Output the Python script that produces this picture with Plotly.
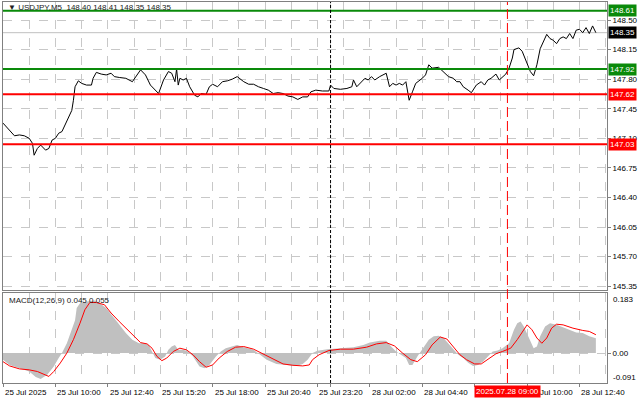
import plotly.graph_objects as go

# ---------------- price data (M5 close, key points) ----------------
fri_times = ["07:20","07:30","07:45","07:55","08:10","08:25","08:40","08:50","08:55","09:05",
             "09:15","09:30","09:40","09:50","10:00","10:10","10:20","10:30","10:40","10:50",
             "10:55","11:00","11:10","11:20","11:35","11:50","11:55","12:05","12:20","12:35",
             "12:50","13:00","13:15","13:35","13:55","14:05","14:20","14:35","14:50","15:15",
             "15:30","15:45","15:55","16:05","16:10","16:15","16:20","16:30","16:40","16:50",
             "17:05","17:15","17:25","17:40","17:50","18:00","18:15","18:30","18:45","19:00",
             "19:15","19:35","19:50","20:05","20:20","20:35","20:50","21:05","21:20","21:35",
             "21:50","22:05","22:20","22:35","22:50","23:00","23:15","23:35","23:55"]
fri_close = [147.28,147.24,147.18,147.13,147.14,147.13,147.10,147.04,146.90,146.98,
             147.02,146.96,146.98,147.08,147.10,147.16,147.18,147.26,147.34,147.43,
             147.55,147.71,147.78,147.75,147.73,147.73,147.81,147.88,147.86,147.85,
             147.87,147.83,147.82,147.81,147.77,147.83,147.91,147.85,147.73,147.63,
             147.79,147.89,147.87,147.77,147.92,147.73,147.81,147.79,147.81,147.71,
             147.61,147.59,147.63,147.62,147.71,147.74,147.71,147.77,147.78,147.80,
             147.83,147.77,147.74,147.74,147.71,147.69,147.67,147.63,147.64,147.63,
             147.60,147.59,147.56,147.59,147.59,147.65,147.67,147.66,147.66]
mon_times = ["00:00","00:10","00:30","00:50","01:05","01:10","01:20","01:35","01:45","01:55",
             "02:05","02:15","02:30","02:50","03:00","03:10","03:20","03:30","03:40","03:50",
             "04:00","04:10","04:20","04:40","04:50","05:00","05:10","05:30","05:45","06:00",
             "06:15","06:25","06:35","06:45","07:00","07:10","07:25","07:40","07:50","08:00",
             "08:10","08:25","08:35","08:45","08:55","09:05","09:15","09:20","09:35","09:45",
             "10:00","10:10","10:20","10:30","10:40","10:50","11:00","11:10","11:20","11:30",
             "11:40","11:50","12:00","12:10","12:20","12:30","12:40","12:50","13:00","13:10",
             "13:20","13:30"]
mon_close = [147.73,147.69,147.68,147.69,147.71,147.79,147.71,147.77,147.81,147.79,
             147.83,147.79,147.83,147.87,147.71,147.75,147.73,147.75,147.73,147.77,
             147.55,147.65,147.75,147.81,147.85,147.97,147.93,147.94,147.89,147.83,
             147.81,147.77,147.77,147.71,147.67,147.64,147.73,147.77,147.73,147.79,
             147.81,147.86,147.79,147.83,147.86,147.93,148.05,148.15,148.17,148.13,
             147.99,147.89,147.84,147.97,148.16,148.24,148.33,148.28,148.26,148.22,
             148.28,148.30,148.28,148.34,148.28,148.38,148.39,148.35,148.41,148.34,
             148.43,148.35]

# ---------------- MACD(12,26,9) ----------------
hist_fri_times = ["07:20","07:40","08:10","08:40","09:00","09:15","09:35","09:55","10:10","10:20",
                  "10:35","10:50","11:00","11:05","11:15","11:35","12:00","12:15","12:35","12:55",
                  "13:15","13:35","13:55","14:15","14:30","14:45","14:55","15:05","15:20","15:35",
                  "15:45","15:55","16:05","16:15","16:30","16:45","17:00","17:20","17:35","17:50",
                  "18:10","18:25","18:40","19:00","19:15","19:35","20:05","20:25","20:45","21:15",
                  "21:45","22:15","22:35","22:50","23:05","23:20","23:50"]
hist_fri = [-0.020,-0.036,-0.046,-0.056,-0.073,-0.079,-0.066,-0.041,-0.015,0.000,
            0.030,0.071,0.100,0.137,0.152,0.157,0.160,0.152,0.137,0.112,
            0.086,0.061,0.041,0.030,0.030,0.025,0.005,-0.015,-0.020,-0.010,
            0.010,0.020,0.025,0.010,0.010,0.005,-0.010,-0.041,-0.046,-0.036,
            -0.010,0.005,0.015,0.022,0.025,0.018,0.010,-0.005,-0.020,-0.033,
            -0.036,-0.039,-0.033,-0.020,0.000,0.007,0.012]
hist_mon_times = ["00:10","00:40","01:10","01:40","02:00","02:30","02:50","03:05","03:20","03:35",
                  "03:50","04:00","04:10","04:25","04:45","05:00","05:15","05:30","05:45","06:00",
                  "06:15","06:30","06:45","07:00","07:15","07:30","07:45","08:00","08:15","08:30",
                  "08:45","09:05","09:20","09:30","09:40","09:50","10:05","10:20","10:30","10:40",
                  "10:55","11:10","11:30","11:50","12:10","12:30","12:50","13:10","13:30"]
hist_mon = [0.014,0.015,0.018,0.025,0.032,0.038,0.038,0.020,0.005,-0.005,
            -0.015,-0.036,-0.036,-0.010,0.020,0.041,0.051,0.053,0.046,0.030,
            0.012,-0.005,-0.015,-0.029,-0.039,-0.036,-0.026,-0.010,0.005,0.008,
            0.015,0.030,0.071,0.091,0.096,0.081,0.046,0.015,0.020,0.051,
            0.081,0.091,0.086,0.079,0.071,0.063,0.061,0.051,0.045]
sig_fri_times = ["07:20","07:40","08:10","08:40","09:05","09:40","09:55","10:15","10:35","10:55",
                 "11:15","11:30","11:45","12:05","12:30","12:50","13:15","13:40","14:05","14:20",
                 "14:40","14:55","15:10","15:25","15:40","16:00","16:20","16:40","17:00","17:20",
                 "17:40","18:00","18:20","18:45","19:10","19:35","20:05","20:35","21:05","21:35",
                 "22:05","22:35","22:55","23:05","23:25","23:55"]
sig_fri = [-0.026,-0.039,-0.048,-0.051,-0.056,-0.071,-0.056,-0.030,0.000,0.041,
           0.091,0.132,0.154,0.154,0.147,0.122,0.096,0.071,0.046,0.032,
           0.028,0.015,-0.010,-0.023,-0.015,0.005,0.015,0.010,-0.005,-0.026,
           -0.043,-0.036,-0.015,0.005,0.018,0.020,0.012,-0.003,-0.020,-0.033,
           -0.037,-0.039,-0.036,-0.020,-0.005,0.008]
sig_mon_times = ["00:30","01:10","01:50","02:20","02:50","03:15","03:40","04:05","04:25","04:50",
                 "05:10","05:35","05:55","06:15","06:35","06:55","07:20","07:40","08:00","08:25",
                 "08:45","09:10","09:30","09:50","10:00","10:15","10:30","10:45","11:00","11:15",
                 "11:30","11:50","12:20","12:50","13:10","13:30"]
sig_mon = [0.012,0.012,0.018,0.028,0.032,0.022,0.000,-0.020,-0.026,-0.005,
           0.025,0.049,0.043,0.020,-0.005,-0.020,-0.033,-0.033,-0.018,-0.002,
           0.005,0.015,0.041,0.071,0.086,0.071,0.046,0.030,0.046,0.076,
           0.088,0.086,0.076,0.069,0.066,0.056]

# ---------------- levels / ticks / labels ----------------
price_ticks = [148.50, 148.15, 147.80, 147.45, 147.10, 146.75, 146.40, 146.05, 145.70, 145.35]
level_values = [148.61, 147.92, 147.62, 147.03]
level_colors = ["#0a8a0a", "#0a8a0a", "#ff0000", "#ff0000"]
bid_price = 148.35
time_tick_x = ["2025-07-25 07:20", "2025-07-25 10:00", "2025-07-25 12:40", "2025-07-25 15:20",
               "2025-07-25 18:00", "2025-07-25 20:40", "2025-07-25 23:20", "2025-07-28 02:00",
               "2025-07-28 04:40", "2025-07-28 10:00", "2025-07-28 12:40"]
time_tick_text = ["25 Jul 2025", "25 Jul 10:00", "25 Jul 12:40", "25 Jul 15:20", "25 Jul 18:00",
                  "25 Jul 20:40", "25 Jul 23:20", "28 Jul 02:00", "28 Jul 04:40",
                  "28 Jul 10:00", "28 Jul 12:40"]
day_sep_time = "2025-07-28 00:00"
marker_time = "2025-07-28 09:00"
marker_text = "2025.07.28 09:00"
macd_max, macd_min = 0.183, -0.091
x_start, x_end = "2025-07-25 07:20", "2025-07-28 14:04"

price_x = ["2025-07-25 " + t for t in fri_times] + ["2025-07-28 " + t for t in mon_times]
price_y = fri_close + mon_close
hist_x = ["2025-07-25 " + t for t in hist_fri_times] + ["2025-07-28 " + t for t in hist_mon_times]
hist_y = hist_fri + hist_mon
sig_x = ["2025-07-25 " + t for t in sig_fri_times] + ["2025-07-28 " + t for t in sig_mon_times]
sig_y = sig_fri + sig_mon

FONT = "Liberation Sans"
GRID = "#c8c8c8"
BORDER = "#808080"
MIN = 60000

fig = go.Figure()
fig.add_trace(go.Scatter(x=price_x, y=price_y, mode="lines",
                         line=dict(color="#000000", width=1), xaxis="x", yaxis="y",
                         hoverinfo="skip"))
fig.add_trace(go.Scatter(x=hist_x, y=hist_y, mode="lines", line=dict(width=0, color="#c0c0c0"),
                         fill="tozeroy", fillcolor="#c0c0c0", xaxis="x2", yaxis="y2",
                         hoverinfo="skip"))
fig.add_trace(go.Scatter(x=sig_x, y=sig_y, mode="lines", line=dict(color="#ff0000", width=1),
                         xaxis="x2", yaxis="y2", hoverinfo="skip"))

xcommon = dict(type="date", range=[x_start, x_end],
               rangebreaks=[dict(bounds=["sat", "mon"])],
               tick0="2025-07-25 07:20", dtick=160 * MIN,
               showgrid=True, gridcolor=GRID, griddash="dash", gridwidth=1,
               minor=dict(tick0="2025-07-25 07:20", dtick=80 * MIN, showgrid=True,
                          gridcolor=GRID, griddash="dash", gridwidth=1),
               showline=True, linecolor=BORDER, linewidth=1, mirror=True,
               zeroline=False, showticklabels=False, domain=[0, 1])
main_dom = [0.2441, 1.0]
macd_dom = [0.0, 0.2362]

fig.update_layout(
    width=640, height=401,
    margin=dict(l=3, r=33, t=2, b=18),
    paper_bgcolor="white", plot_bgcolor="white",
    showlegend=False,
    font=dict(family=FONT, size=8, color="#000000"),
    xaxis=dict(**xcommon, anchor="y", ticks=""),
    xaxis2=dict(**xcommon, anchor="y2", matches="x", ticks="outside", ticklen=3,
                tickcolor=BORDER),
    yaxis=dict(domain=main_dom, range=[145.305, 148.713], side="right", anchor="x",
               tickvals=price_ticks, ticktext=[f"{v:.2f}" for v in price_ticks],
               showgrid=True, gridcolor=GRID, griddash="dash", zeroline=False,
               ticks="outside", ticklen=3, tickcolor=BORDER,
               showline=True, linecolor=BORDER, mirror=True,
               tickfont=dict(family=FONT, size=8, color="#000000")),
    yaxis2=dict(domain=macd_dom, range=[macd_min, macd_max], side="right", anchor="x2",
                tickvals=[0], ticktext=["0.00"],
                showgrid=True, gridcolor=GRID, griddash="dash", zeroline=False,
                ticks="outside", ticklen=3, tickcolor=BORDER,
                showline=True, linecolor=BORDER, mirror=True,
                tickfont=dict(family=FONT, size=8, color="#000000")),
)

shapes = []
shapes.append(dict(type="line", xref="x domain", yref="y", x0=0, x1=1, y0=bid_price, y1=bid_price,
                   line=dict(color="#c0c0c0", width=1), layer="below"))
for v, c in zip(level_values, level_colors):
    shapes.append(dict(type="line", xref="x domain", yref="y", x0=0, x1=1, y0=v, y1=v,
                       line=dict(color=c, width=2)))
shapes.append(dict(type="line", xref="x", yref="paper", x0=day_sep_time, x1=day_sep_time,
                   y0=0, y1=1, line=dict(color="#000000", width=1, dash="3px,2px")))
shapes.append(dict(type="line", xref="x", yref="paper", x0=marker_time, x1=marker_time,
                   y0=0, y1=1, line=dict(color="#ff0000", width=1, dash="10px,4px")))
fig.update_layout(shapes=shapes)

ann = []
ann.append(dict(text="\u25bc USDJPY,M5  148.40 148.41 148.35 148.35", xref="paper", yref="paper",
                x=0, y=1, xanchor="left", yanchor="top", xshift=3, yshift=1, showarrow=False,
                font=dict(family=FONT, size=8, color="#202020")))
ann.append(dict(text="MACD(12,26,9) 0.045 0.055", xref="paper", yref="paper",
                x=0, y=macd_dom[1], xanchor="left", yanchor="top", xshift=4, yshift=-1,
                showarrow=False, font=dict(family=FONT, size=8, color="#202020")))
ann.append(dict(text=f"{macd_max:.3f}", xref="paper", yref="y2", x=1, y=macd_max,
                xanchor="left", yanchor="middle", xshift=4, yshift=-6, showarrow=False,
                font=dict(family=FONT, size=8, color="#000000")))
ann.append(dict(text=f"{macd_min:.3f}", xref="paper", yref="y2", x=1, y=macd_min,
                xanchor="left", yanchor="middle", xshift=4, yshift=5, showarrow=False,
                font=dict(family=FONT, size=8, color="#000000")))
for v, c in zip(level_values, level_colors):
    ann.append(dict(text=f"{v:.2f}", xref="paper", yref="y", x=1, y=v, xanchor="left",
                    yanchor="middle", xshift=1, showarrow=False, bgcolor=c, borderpad=1,
                    font=dict(family=FONT, size=8, color="#ffffff")))
ann.append(dict(text=f"{bid_price:.2f}", xref="paper", yref="y", x=1, y=bid_price,
                xanchor="left", yanchor="middle", xshift=1, showarrow=False, bgcolor="#000000",
                borderpad=1, font=dict(family=FONT, size=8, color="#ffffff")))
for tx, tt in zip(time_tick_x, time_tick_text):
    ann.append(dict(text=tt, xref="x2", yref="paper", x=tx, y=0, xanchor="left", yanchor="top",
                    yshift=-3, showarrow=False, font=dict(family=FONT, size=8, color="#000000")))
ann.append(dict(text=marker_text, xref="x2", yref="paper", x=marker_time, y=0, xanchor="center",
                yanchor="top", yshift=-2, showarrow=False, bgcolor="#ff0000", borderpad=1,
                font=dict(family=FONT, size=8, color="#ffffff")))
fig.update_layout(annotations=ann)

fig.write_html("out.html", config={"displayModeBar": False},
               post_script="document.body.style.margin='0';document.body.style.overflow='hidden';")
